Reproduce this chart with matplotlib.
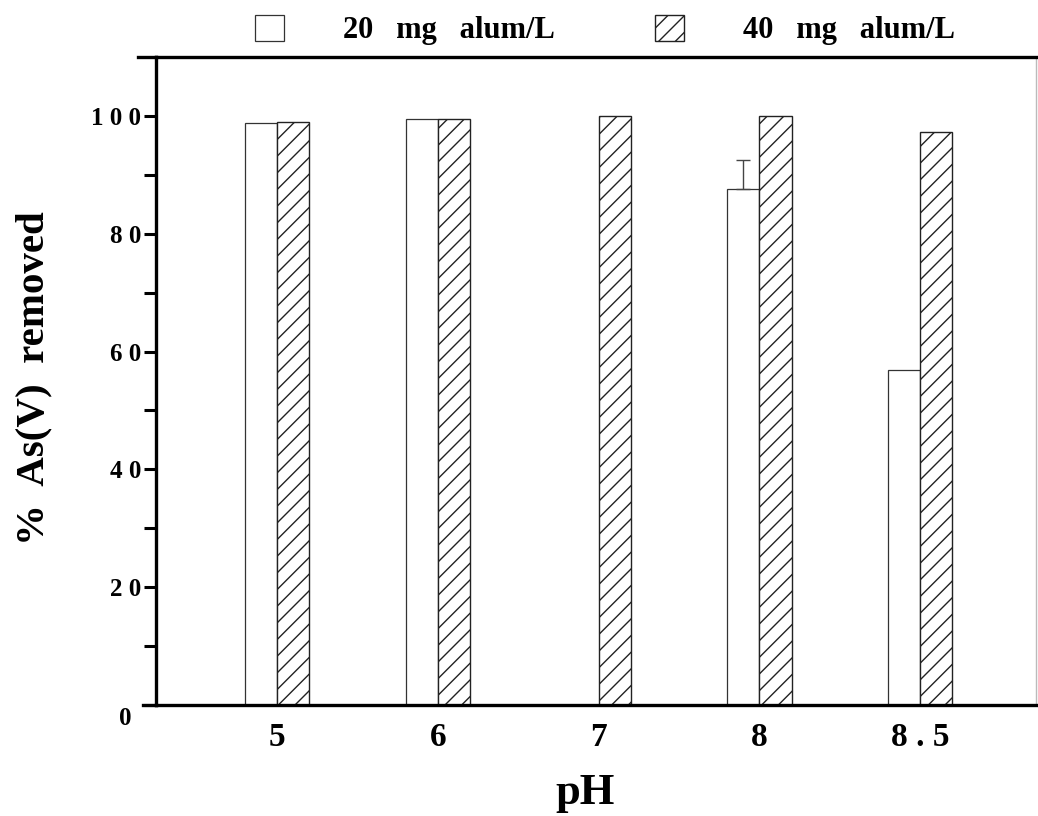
import matplotlib
matplotlib.use("Agg")
import matplotlib.pyplot as plt
import matplotlib.transforms as mtransforms
import numpy as np

ph_labels = ["5", "6", "7", "8", "8 . 5"]
removal_20mg = [98.8, 99.4, 0.0, 87.6, 56.8]
removal_40mg = [99.0, 99.4, 100.0, 100.0, 97.2]
err_20mg_upper = [0.0, 0.0, 0.0, 4.9, 0.0]
y_ticks = [0, 20, 40, 60, 80, 100]
y_tick_labels = ["0", "2 0", "4 0", "6 0", "8 0", "1 0 0"]

plt.rcParams["font.family"] = ["Liberation Serif", "DejaVu Serif"]
plt.rcParams["font.weight"] = "bold"
plt.rcParams["hatch.linewidth"] = 1.0

fig = plt.figure(figsize=(10.38, 8.16), dpi=100)
ax = fig.add_axes([156 / 1038, 1 - 705 / 816, (1036 - 156) / 1038, (705 - 57) / 816])

x = np.arange(len(ph_labels))
width = 0.2

ax.bar(x - width / 2, removal_20mg, width, color="white", edgecolor="#333333", linewidth=0.9, zorder=2, label="20   mg   alum/L")
ax.bar(x + width / 2, removal_40mg, width, color="white", edgecolor="#222222", linewidth=1.0, hatch="//", zorder=2, label="40   mg   alum/L")

# only the pH 8 bar has an (upper) error bar
err_x = [xi - width / 2 for xi, e in zip(x, err_20mg_upper) if e > 0]
err_y = [v for v, e in zip(removal_20mg, err_20mg_upper) if e > 0]
err_up = [e for e in err_20mg_upper if e > 0]
ax.errorbar(err_x, err_y, yerr=[[0] * len(err_up), err_up], fmt="none", ecolor="#444444", elinewidth=1.0, capsize=5, capthick=1.0, zorder=3)

ax.set_xlim(-0.753, 4.72)
ax.set_ylim(0, 110)

ax.set_xticks(x)
ax.set_xticklabels(ph_labels, fontsize=24, fontweight="bold")
ax.tick_params(axis="x", length=0, pad=12)

ax.set_yticks(y_ticks)
ax.set_yticklabels(y_tick_labels, fontsize=18, fontweight="bold")
ax.set_yticks(np.arange(10, 110, 20), minor=True)
ax.tick_params(axis="y", which="both", direction="out", length=8.5, width=2.2, pad=2)

# the "0" label sits a little below and left of the axis corner in the original
zero_label = ax.get_yticklabels()[0]
zero_label.set_transform(zero_label.get_transform() + mtransforms.ScaledTranslation(-7 / 72, -8 / 72, fig.dpi_scale_trans))

for side in ["left", "top", "bottom"]:
    ax.spines[side].set_linewidth(2.4)
ax.spines["right"].set_linewidth(1.0)
ax.spines["right"].set_color("#bbbbbb")

# small overhang of the frame lines to the left, as in the original print
ax.plot([-0.02, 0], [1, 1], transform=ax.transAxes, color="black", linewidth=2.4, clip_on=False)
ax.plot([-0.015, 0], [0, 0], transform=ax.transAxes, color="black", linewidth=2.4, clip_on=False)

ax.set_ylabel("%  As(V)  removed", fontsize=29.5, fontweight="bold")
ax.yaxis.set_label_coords(-0.118, 0.505)
ax.set_xlabel("pH", fontsize=32, fontweight="bold")
ax.xaxis.set_label_coords(0.4875, -0.105)

ax.legend(
    loc="center left",
    bbox_to_anchor=(255 / 1038, 1 - 30 / 816),
    bbox_transform=fig.transFigure,
    ncol=2,
    frameon=False,
    fontsize=22,
    handlelength=0.95,
    handleheight=0.98,
    handletextpad=1.93,
    columnspacing=3.27,
    borderaxespad=0,
    borderpad=0,
)

fig.savefig("out.png", dpi=100, facecolor="white")
